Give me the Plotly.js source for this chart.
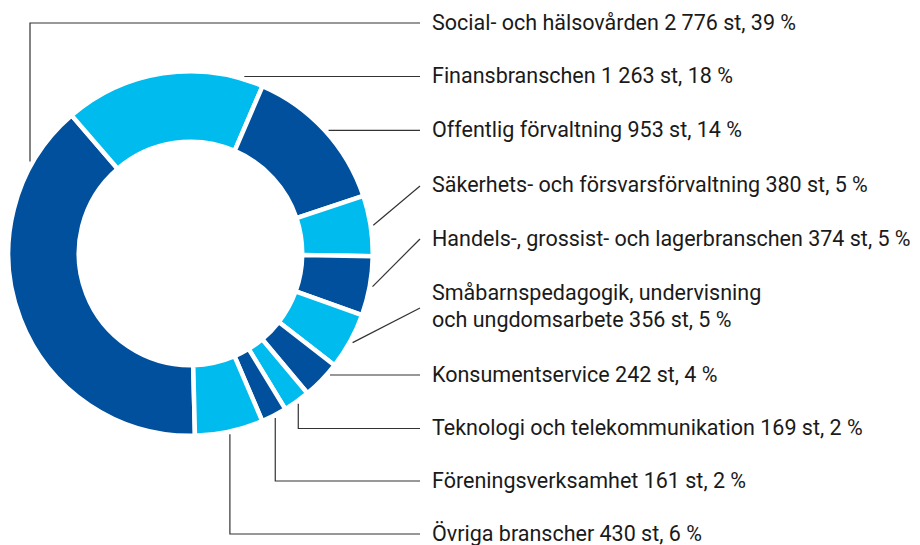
<!DOCTYPE html>
<html><head><meta charset="utf-8">
<script src="https://cdn.plot.ly/plotly-3.0.1.min.js"></script>
<style>html,body{margin:0;padding:0;background:#fff}#chart{width:920px;height:545px}</style>
</head><body><div id="chart"></div>
<script>
// ---- data ----
const categories = ["Social- och hälsovården","Finansbranschen","Offentlig förvaltning","Säkerhets- och försvarsförvaltning","Handels-, grossist- och lagerbranschen","Småbarnspedagogik, undervisning\noch ungdomsarbete","Konsumentservice","Teknologi och telekommunikation","Föreningsverksamhet","Övriga branscher"];
const counts = [2776,1263,953,380,374,356,242,169,161,430];
const countLabels = ["2 776","1 263","953","380","374","356","242","169","161","430"];
const percents = [39,18,14,5,5,5,4,2,2,6];

// ---- layout / style ----
const W = 920, H = 545;
const cx = 190.5, cy = 253.5, R = 182.25, HOLE = 0.613, ROT = 178.6;
const colors = categories.map((c,i) => i % 2 === 0 ? '#00509e' : '#00bbee');
const rowY = [23,76.5,130.4,186,239,308,375,428.5,481,534];
const leaderType = ['vElbow','h','h','diag','diag','diag','h','vDown','vDown','vDown'];
const elbowX = 30, lineEndX = 420, textX = 430, leadR = 185;

const px = x => x / W, py = y => 1 - y / H;

// slice mid angles (clockwise from 12 o'clock)
const total = counts.reduce((a,b)=>a+b,0);
let cum = 0;
const midAng = counts.map(v => { const a = ROT + (cum + v/2)/total*360; cum += v; return a*Math.PI/180; });

const shapes = [], annotations = [];
categories.forEach((cat, i) => {
  const y = rowY[i];
  let pts;
  if (leaderType[i] === 'vElbow') {
    const sy = cy - Math.sqrt(leadR*leadR - (elbowX-cx)*(elbowX-cx));
    pts = [[elbowX, sy],[elbowX, y],[lineEndX, y]];
  } else if (leaderType[i] === 'h') {
    const sx = cx + Math.sqrt(leadR*leadR - (y-cy)*(y-cy));
    pts = [[sx, y],[lineEndX, y]];
  } else {
    const sx = cx + leadR*Math.sin(midAng[i]), sy = cy - leadR*Math.cos(midAng[i]);
    pts = leaderType[i] === 'diag' ? [[sx,sy],[lineEndX,y]] : [[sx,sy],[sx,y],[lineEndX,y]];
  }
  shapes.push({type:'path', xref:'paper', yref:'paper',
    path: pts.map((p,k)=>(k?'L ':'M ')+px(p[0])+' '+py(p[1])).join(' '),
    line:{color:'#333333', width:1.2}});
  const lines = cat.split('\n');
  const tail = ' ' + countLabels[i] + ' st, ' + percents[i] + ' %';
  lines[lines.length-1] += tail;
  const spacing = 27;
  lines.forEach((ln, k) => {
    const ty = y - 1 + (k - (lines.length-1)/2) * spacing - (lines.length>1 ? 1.5 : 0);
    annotations.push({xref:'paper', yref:'paper', x:px(textX), y:py(ty), xanchor:'left', yanchor:'middle',
      text: ln, showarrow:false, font:{family:'Roboto', size:21.5, color:'#1a1a1a'}});
  });
});

const trace = {
  type:'pie', values: counts, labels: categories, sort:false, direction:'clockwise', rotation: ROT,
  hole: HOLE, textinfo:'none', hoverinfo:'none', showlegend:false,
  marker:{colors: colors, line:{color:'#ffffff', width:4.5}},
  domain:{x:[px(cx-R), px(cx+R)], y:[py(cy+R), py(cy-R)]}
};

Plotly.newPlot('chart', [trace], {
  width: W, height: H, margin:{l:0,r:0,t:0,b:0},
  paper_bgcolor:'#ffffff', plot_bgcolor:'#ffffff', showlegend:false,
  shapes: shapes, annotations: annotations
}, {displayModeBar:false, staticPlot:true});
</script>
</body></html>
